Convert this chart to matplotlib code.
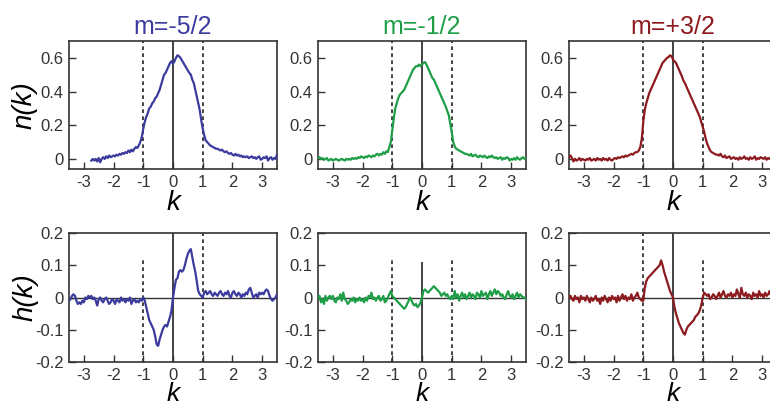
import numpy as np
import matplotlib
matplotlib.use("Agg")
import matplotlib.pyplot as plt

plt.rcParams['font.family'] = ['Liberation Sans', 'DejaVu Sans']
plt.rcParams['axes.unicode_minus'] = False

# ---------------- data ----------------
k = np.round(np.arange(-3.5, 3.5001, 0.05), 2)

titles = ["m=-5/2", "m=-1/2", "m=+3/2"]
colors = ["#3b3b9e", "#1f9e48", "#8c1a1e"]

n_blue = [
    -0.010, 0.000, -0.010, 0.000, -0.015, 0.005, -0.020, 0.000, 0.010, 0.000,
    0.015, 0.005, 0.020, 0.010, 0.015, 0.020, 0.015, 0.025, 0.020, 0.030,
    0.025, 0.035, 0.030, 0.040, 0.035, 0.050, 0.040, 0.055, 0.045, 0.060,
    0.070, 0.065, 0.080, 0.100, 0.130, 0.180, 0.220, 0.250, 0.270, 0.300,
    0.310, 0.330, 0.340, 0.360, 0.370, 0.390, 0.410, 0.440, 0.470, 0.500,
    0.510, 0.530, 0.550, 0.570, 0.580, 0.565, 0.580, 0.600, 0.615, 0.610,
    0.600, 0.585, 0.570, 0.555, 0.540, 0.525, 0.510, 0.500, 0.470, 0.450,
    0.410, 0.370, 0.330, 0.290, 0.230, 0.180, 0.140, 0.110, 0.100, 0.090,
    0.080, 0.075, 0.070, 0.065, 0.060, 0.060, 0.055, 0.050, 0.055, 0.045,
    0.040, 0.045, 0.035, 0.030, 0.035, 0.025, 0.020, 0.030, 0.020, 0.025,
    0.015, 0.020, 0.010, 0.015, 0.010, 0.015, 0.005, 0.010, 0.015, 0.005,
    0.010, 0.000, 0.010, 0.015, -0.005, 0.000, 0.010, 0.005, 0.015, -0.010,
    0.005, 0.010, -0.005, 0.005, 0.000, 0.025,
]

n_green = [
    0.005, 0.010, 0.000, 0.005, -0.005, 0.000, 0.005, -0.010, -0.005, 0.000,
    -0.010, -0.005, 0.000, -0.005, -0.010, -0.005, 0.000, -0.005, -0.010, 0.000,
    -0.005, 0.000, -0.005, 0.005, 0.000, 0.005, 0.000, 0.010, 0.005, 0.015,
    0.010, 0.005, 0.015, 0.010, 0.020, 0.015, 0.010, 0.020, 0.015, 0.025,
    0.030, 0.020, 0.030, 0.025, 0.040, 0.030, 0.045, 0.040, 0.070, 0.100,
    0.170, 0.240, 0.300, 0.330, 0.360, 0.380, 0.390, 0.400, 0.410, 0.430,
    0.450, 0.470, 0.490, 0.510, 0.530, 0.540, 0.550, 0.550, 0.560, 0.550,
    0.560, 0.570, 0.575, 0.560, 0.540, 0.520, 0.500, 0.480, 0.470, 0.450,
    0.430, 0.410, 0.390, 0.370, 0.350, 0.330, 0.310, 0.285, 0.260, 0.210,
    0.160, 0.100, 0.075, 0.060, 0.055, 0.050, 0.045, 0.040, 0.035, 0.030,
    0.030, 0.025, 0.020, 0.030, 0.015, 0.020, 0.025, 0.015, 0.010, 0.020,
    0.015, 0.010, 0.020, 0.010, 0.005, 0.015, 0.010, 0.020, 0.010, 0.005,
    0.010, 0.000, 0.005, 0.010, -0.005, 0.005, 0.000, 0.010, 0.005, -0.010,
    0.000, -0.005, 0.005, -0.005, 0.010, 0.000, -0.005, 0.005, 0.010, 0.000,
    0.005,
]

n_red = [
    0.010, 0.020, 0.005, -0.015, 0.000, -0.010, -0.005, 0.005, -0.010, 0.000,
    -0.005, -0.010, 0.000, -0.005, 0.005, -0.010, -0.005, 0.000, -0.010, 0.005,
    -0.005, 0.000, -0.010, 0.005, -0.005, 0.000, -0.010, 0.005, -0.005, -0.010,
    0.000, 0.005, 0.000, 0.010, 0.005, 0.010, 0.015, 0.010, 0.020, 0.015,
    0.020, 0.025, 0.030, 0.025, 0.035, 0.040, 0.040, 0.050, 0.070, 0.120,
    0.220, 0.290, 0.330, 0.360, 0.390, 0.410, 0.430, 0.450, 0.470, 0.490,
    0.510, 0.530, 0.550, 0.570, 0.580, 0.590, 0.600, 0.605, 0.615, 0.610,
    0.590, 0.580, 0.570, 0.550, 0.530, 0.510, 0.490, 0.465, 0.450, 0.430,
    0.410, 0.390, 0.370, 0.350, 0.330, 0.310, 0.290, 0.270, 0.250, 0.220,
    0.190, 0.160, 0.120, 0.090, 0.070, 0.050, 0.040, 0.035, 0.030, 0.025,
    0.025, 0.020, 0.030, 0.015, 0.010, 0.020, 0.005, 0.010, 0.015, 0.000,
    0.005, 0.010, 0.000, 0.005, -0.005, 0.010, 0.000, 0.005, 0.015, 0.000,
    0.005, -0.005, 0.010, 0.000, 0.005, 0.015, -0.005, 0.005, 0.000, 0.010,
    0.005, 0.000, 0.010, -0.005, 0.005, 0.000, 0.010, 0.005, -0.005, 0.005,
    0.010,
]

h_blue = [
    -0.010, -0.005, 0.005, 0.010, 0.005, -0.010, -0.020, -0.015, -0.020, -0.010,
    -0.015, 0.000, -0.005, 0.005, 0.000, 0.005, -0.005, 0.000, -0.010, -0.025,
    -0.005, 0.000, -0.010, -0.015, -0.005, 0.000, -0.010, -0.020, -0.015, -0.005,
    -0.010, -0.020, -0.005, -0.010, -0.015, 0.000, -0.010, -0.005, -0.015, -0.005,
    -0.010, 0.000, -0.020, -0.010, -0.005, -0.015, -0.010, -0.015, -0.005, -0.010,
    0.000, -0.010, -0.030, -0.050, -0.070, -0.080, -0.090, -0.100, -0.120, -0.145,
    -0.150, -0.130, -0.115, -0.100, -0.090, -0.085, -0.090, -0.075, -0.060, -0.040,
    0.000, 0.030, 0.055, 0.060, 0.080, 0.085, 0.080, 0.085, 0.100, 0.120,
    0.135, 0.145, 0.150, 0.125, 0.100, 0.080, 0.050, 0.020, 0.010, 0.005,
    0.000, 0.015, 0.020, 0.010, 0.015, 0.020, 0.010, 0.005, 0.015, 0.010,
    0.005, 0.015, 0.020, 0.010, 0.005, 0.015, 0.010, 0.020, 0.005, 0.000,
    0.015, 0.020, 0.010, 0.005, 0.015, 0.010, 0.000, 0.010, 0.005, 0.015,
    0.010, 0.025, 0.030, 0.015, 0.000, 0.005, 0.010, 0.000, 0.015, 0.010,
    0.015, 0.010, 0.020, 0.025, 0.020, 0.005, -0.005, -0.010, -0.005, 0.000,
    0.010,
]

h_green = [
    0.000, 0.005, -0.015, -0.005, -0.020, 0.005, -0.010, 0.000, 0.005, -0.005,
    0.005, -0.010, -0.015, 0.000, -0.005, 0.010, -0.010, 0.015, -0.005, -0.010,
    -0.020, -0.015, -0.005, -0.010, 0.000, -0.015, -0.005, -0.010, 0.000, -0.010,
    -0.005, -0.015, 0.000, -0.010, 0.005, 0.000, 0.015, -0.005, 0.000, -0.010,
    0.000, 0.005, -0.010, -0.005, 0.005, -0.015, -0.010, 0.000, 0.010, 0.020,
    0.005, 0.000, -0.005, -0.010, -0.015, -0.020, -0.025, -0.030, -0.035, -0.030,
    -0.020, -0.010, 0.000, -0.010, -0.020, -0.025, -0.020, -0.030, -0.025, -0.015,
    0.000, 0.020, 0.025, 0.020, 0.015, 0.020, 0.025, 0.030, 0.035, 0.030,
    0.025, 0.020, 0.015, 0.005, 0.010, 0.015, 0.005, 0.010, 0.000, -0.005,
    0.005, -0.005, 0.020, 0.000, 0.010, -0.010, 0.005, 0.015, 0.000, 0.010,
    -0.005, 0.005, 0.015, 0.000, 0.010, 0.005, -0.005, 0.015, 0.010, 0.000,
    0.020, 0.005, 0.010, 0.015, -0.005, 0.010, 0.020, 0.005, 0.015, 0.025,
    0.010, 0.020, 0.015, 0.005, 0.010, 0.000, -0.005, 0.010, 0.020, 0.005,
    0.000, 0.010, -0.005, 0.005, 0.015, 0.000, 0.010, 0.005, 0.000, 0.000,
    -0.005,
]

h_red = [
    0.000, 0.005, -0.005, -0.010, 0.005, -0.005, 0.000, -0.015, 0.005, -0.005,
    0.000, -0.010, 0.005, -0.005, -0.015, 0.000, -0.010, -0.005, 0.005, -0.010,
    -0.005, -0.020, 0.000, -0.010, 0.005, -0.005, -0.015, 0.000, -0.010, 0.005,
    -0.005, 0.000, -0.015, 0.005, -0.010, 0.000, 0.010, -0.005, 0.005, -0.010,
    0.000, -0.005, 0.010, -0.010, 0.000, 0.005, 0.015, 0.000, -0.005, -0.010,
    -0.010, 0.030, 0.050, 0.060, 0.065, 0.070, 0.075, 0.080, 0.085, 0.090,
    0.095, 0.100, 0.115, 0.100, 0.080, 0.065, 0.050, 0.035, 0.020, 0.010,
    0.000, -0.030, -0.050, -0.065, -0.080, -0.090, -0.100, -0.110, -0.115, -0.100,
    -0.090, -0.085, -0.080, -0.075, -0.070, -0.060, -0.055, -0.050, -0.040, -0.025,
    0.000, 0.015, 0.010, 0.005, 0.010, -0.005, 0.000, 0.010, 0.005, -0.005,
    0.005, 0.015, 0.000, 0.010, 0.020, 0.005, 0.000, 0.010, 0.005, 0.015,
    0.000, 0.010, 0.005, 0.025, 0.010, 0.000, 0.030, 0.010, 0.005, 0.015,
    0.000, 0.010, 0.005, -0.005, 0.015, 0.005, 0.010, 0.000, 0.020, 0.005,
    0.010, 0.000, 0.015, 0.005, 0.010, 0.020, 0.005, 0.000, 0.015, 0.005,
    0.010,
]

n_series = [n_blue, n_green, n_red]
h_series = [h_blue, h_green, h_red]

x_ticks = [-3, -2, -1, 0, 1, 2, 3]
n_ticks = [0, 0.2, 0.4, 0.6]
n_tick_labels = ["0", "0.2", "0.4", "0.6"]
h_ticks = [-0.2, -0.1, 0, 0.1, 0.2]
h_tick_labels = ["-0.2", "-0.1", "0", "0.1", "0.2"]

# reference lines in h(k) panels: (x, ymin, ymax, style)
h_vlines = [
    [(0, -0.2, 0.2, '-'), (-1, -0.2, 0.12, ':'), (1, -0.2, 0.2, ':')],
    [(0, -0.2, 0.11, '-'), (-1, -0.2, 0.12, ':'), (1, -0.2, 0.12, ':')],
    [(0, -0.2, 0.2, '-'), (-1, -0.2, 0.2, ':'), (1, -0.2, 0.12, ':')],
]

# ---------------- figure ----------------
W, H = 770, 407
fig = plt.figure(figsize=(W / 100, H / 100), dpi=100)

lefts = [69, 318, 569]
aw = 208
top_row = (41, 169)
bot_row = (233, 362)

spine_c = "#333333"
dash = (0, (2.2, 2.0))


def make_ax(left, row):
    t, b = row
    return fig.add_axes([left / W, 1 - b / H, aw / W, (b - t) / H])


def style(ax):
    for s in ax.spines.values():
        s.set_color(spine_c)
        s.set_linewidth(1.2)
    ax.tick_params(direction='in', length=5, width=1.0, color=spine_c,
                   labelsize=12, labelcolor="#333333", pad=4)
    ax.set_xlim(-3.5, 3.5)
    ax.set_xticks(x_ticks)
    ax.set_xticklabels([str(v) for v in x_ticks])


for i in range(3):
    # n(k)
    ax = make_ax(lefts[i], top_row)
    style(ax)
    ax.set_ylim(-0.06, 0.7)
    ax.set_yticks(n_ticks)
    ax.set_yticklabels(n_tick_labels)
    ax.axvline(0, color="#222222", lw=1.2, zorder=1)
    ax.axvline(-1, color="#222222", lw=1.2, ls=dash, zorder=1)
    ax.axvline(1, color="#222222", lw=1.2, ls=dash, zorder=1)
    vals = np.array(n_series[i], dtype=float)
    kk = k[len(k) - len(vals):]
    ax.plot(kk, vals, color=colors[i], lw=1.6, zorder=3)
    ax.set_title(titles[i], color=colors[i], fontsize=18, pad=5)
    ax.set_xlabel("k", fontsize=20, style='italic', labelpad=0)
    if i == 0:
        ax.set_ylabel("n(k)", fontsize=20, style='italic', labelpad=2)

    # h(k)
    ax = make_ax(lefts[i], bot_row)
    style(ax)
    ax.set_ylim(-0.2, 0.2)
    ax.set_yticks(h_ticks)
    ax.set_yticklabels(h_tick_labels)
    ax.axhline(0, color="#333333", lw=1.0, zorder=1)
    for (xv, y0, y1, ls) in h_vlines[i]:
        ax.vlines(xv, y0, y1, color="#222222", lw=1.2,
                  linestyles='-' if ls == '-' else dash, zorder=1)
    vals = np.array(h_series[i], dtype=float)
    ax.plot(k, vals, color=colors[i], lw=1.6, zorder=3)
    ax.set_xlabel("k", fontsize=19, style='italic', labelpad=-0.5)
    if i == 0:
        ax.set_ylabel("h(k)", fontsize=20, style='italic', labelpad=-3)

fig.savefig("out.png", dpi=100)
